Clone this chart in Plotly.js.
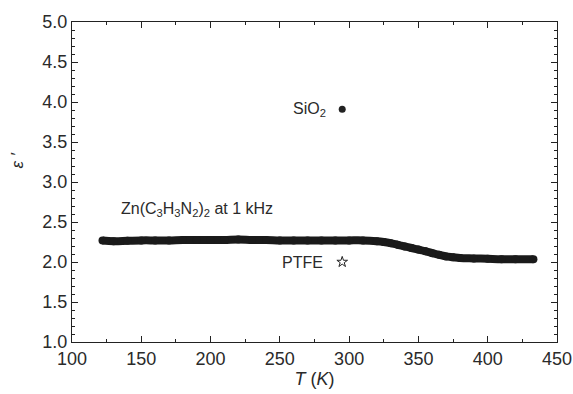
<!DOCTYPE html>
<html>
<head>
<meta charset="utf-8">
<script src="https://cdn.plot.ly/plotly-3.0.1.min.js"></script>
<style>html,body{margin:0;padding:0;background:#fff;}#chart{width:573px;height:394px;}</style>
</head>
<body>
<div id="chart"></div>
<script>
// Zn(C3H3N2)2 at 1 kHz
const tempK = [122, 130, 140, 150, 160, 170, 180, 190, 200, 210, 220, 230, 240, 250, 260, 270, 280, 290, 300, 310, 320, 325, 330, 335, 340, 345, 350, 355, 360, 365, 370, 375, 380, 390, 400, 410, 420, 433];
const epsZn  = [2.27, 2.26, 2.265, 2.27, 2.27, 2.27, 2.275, 2.275, 2.275, 2.275, 2.28, 2.275, 2.275, 2.27, 2.27, 2.27, 2.27, 2.27, 2.27, 2.27, 2.26, 2.25, 2.235, 2.215, 2.195, 2.175, 2.155, 2.135, 2.11, 2.09, 2.07, 2.06, 2.05, 2.045, 2.04, 2.035, 2.035, 2.035];
// reference materials
const sio2T = [295]; const sio2Eps = [3.91];
const ptfeT = [295]; const ptfeEps = [2.0];
const xTicks = [100, 150, 200, 250, 300, 350, 400, 450];
const yTicks = [1.0, 1.5, 2.0, 2.5, 3.0, 3.5, 4.0, 4.5, 5.0];

const FONT = 'Liberation Sans, Arial, sans-serif';
const INK = '#2a2a2a';

const traces = [
  {x: tempK, y: epsZn, mode: 'lines+markers', line: {color: '#1a1a1a', width: 8, shape: 'spline'}, marker: {color: '#1a1a1a', size: 8}, hoverinfo: 'none'},
  {x: sio2T, y: sio2Eps, mode: 'markers', marker: {color: '#222', size: 7, symbol: 'circle'}},
  {x: ptfeT, y: ptfeEps, mode: 'markers', marker: {color: '#222', size: 8, symbol: 'star-open', line: {width: 1}}}
];

const axisCommon = {
  showgrid: false, zeroline: false, showline: true, linecolor: '#222', linewidth: 1.2,
  mirror: 'allticks', ticks: 'inside', ticklen: 6, tickwidth: 1, tickcolor: '#222',
  tickfont: {family: FONT, size: 18, color: INK}
};

const layout = {
  width: 573, height: 394,
  margin: {l: 72, r: 16, t: 22, b: 52},
  paper_bgcolor: '#fff', plot_bgcolor: '#fff',
  showlegend: false,
  xaxis: Object.assign({}, axisCommon, {
    range: [100, 450], tickvals: xTicks, ticktext: xTicks.map(String),
    minor: {dtick: 25, tick0: 100, ticks: 'inside', ticklen: 3, tickcolor: '#222'},
    title: {text: '<i>T</i> (<i>K</i>)', standoff: 3, font: {family: FONT, size: 18, color: INK}}
  }),
  yaxis: Object.assign({}, axisCommon, {
    range: [1.0, 5.0], tickvals: yTicks, ticktext: yTicks.map(v => v.toFixed(1)),
    minor: {dtick: 0.1, tick0: 1.0, ticks: 'inside', ticklen: 3, tickcolor: '#222'}
  }),
  annotations: [
    {x: 17, y: 3.27, xref: 'paper', yref: 'y', xanchor: 'center', yanchor: 'middle', text: '<i>ε ′</i>', textangle: -90, showarrow: false, font: {family: FONT, size: 17, color: INK}},
    {x: 284.5, y: 3.91, xref: 'x', yref: 'y', text: 'SiO<sub>2</sub>', showarrow: false, xanchor: 'right', yanchor: 'middle', font: {family: FONT, size: 16, color: INK}},
    {x: 282.5, y: 2.0, xref: 'x', yref: 'y', text: 'PTFE', showarrow: false, xanchor: 'right', yanchor: 'middle', font: {family: FONT, size: 16, color: INK}},
    {x: 134, y: 2.66, xref: 'x', yref: 'y', text: 'Zn(C<sub>3</sub>H<sub>3</sub>N<sub>2</sub>)<sub>2</sub> at 1 kHz', showarrow: false, xanchor: 'left', yanchor: 'middle', font: {family: FONT, size: 16, color: INK}}
  ]
};
// y title placed in pixels: convert paper x for a 17px position
layout.annotations[0].xref = 'paper';
layout.annotations[0].x = (17 - 72) / (573 - 72 - 16);

Plotly.newPlot('chart', traces, layout, {displayModeBar: false, staticPlot: true});
</script>
</body>
</html>
